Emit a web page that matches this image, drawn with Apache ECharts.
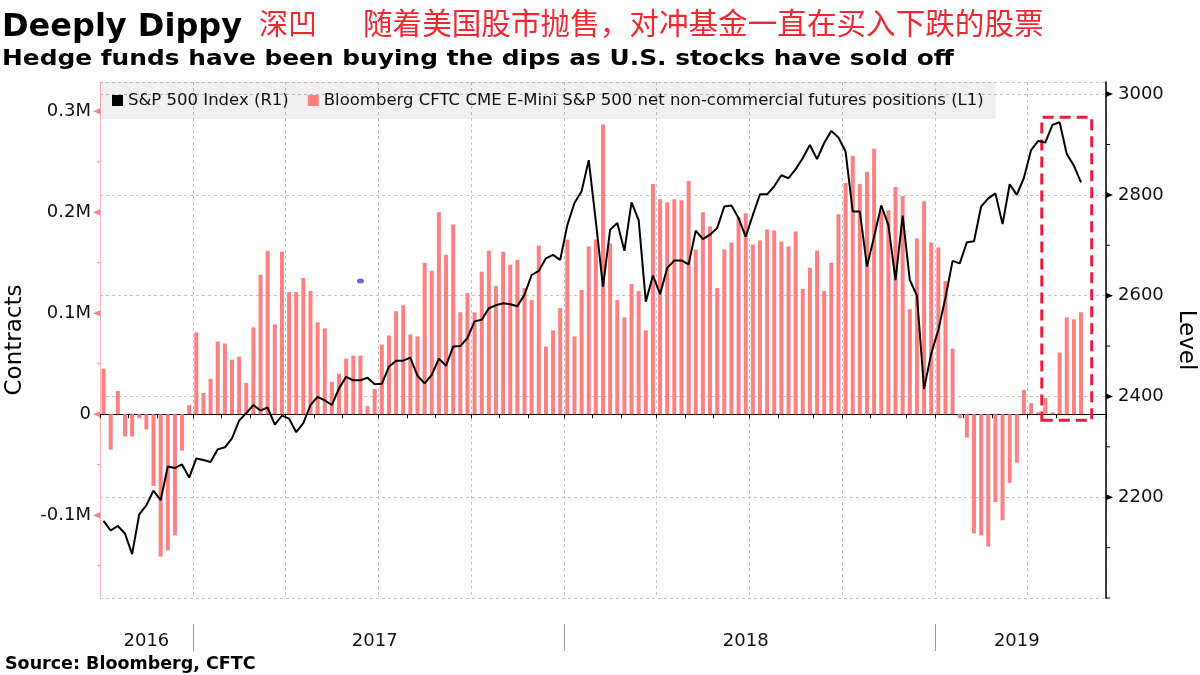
<!DOCTYPE html>
<html style="height: 100%">
<head>
<meta charset="utf-8">
<title>Deeply Dippy</title>
<script src="https://cdn.jsdelivr.net/npm/echarts@6/dist/echarts.min.js"></script>
</head>
<body style="height: 100%; margin: 0; background: #fff">
<div id="container" style="width: 1200px; height: 675px"></div>
<script type="text/javascript">
// weekly (Friday) observations, first one 2016-10-07, axis runs 3 weeks past the last point
var firstWeek = Date.UTC(2016, 9, 7);
var weekCount = 141;

// CFTC net non-commercial E-mini positions, thousands of contracts
var positions = [
    45, -35, 23, -22, -22, -4, -15, -71, -141, -135,
    -120, -36, 9, 81, 21, 35, 72, 70, 54, 57,
    31, 86, 138, 162, 89, 161, 121, 121, 135, 122,
    91, 85, 32, 40, 55, 58, 58, 8, 25, 69,
    78, 102, 108, 79, 77, 150, 142, 200, 158, 188,
    101, 120, 101, 141, 162, 127, 161, 148, 153, 125,
    113, 167, 67, 83, 105, 173, 77, 123, 166, 173,
    287, 169, 113, 96, 129, 122, 83, 228, 213, 210,
    213, 212, 231, 163, 200, 186, 125, 163, 170, 195,
    199, 168, 172, 183, 182, 171, 166, 181, 124, 145,
    162, 122, 150, 198, 229, 256, 228, 240, 263, 202,
    202, 225, 216, 104, 174, 211, 170, 165, 132, 65,
    -4, -23, -118, -120, -131, -87, -105, -68, -48, 24,
    11, 2, 16, 2, 61, 96, 94, 101
];

// S&P 500 index level
var spx = [
    2153, 2134, 2143, 2128, 2087, 2166, 2184, 2213, 2194, 2261,
    2258, 2265, 2239, 2277, 2274, 2270, 2295, 2299, 2317, 2352,
    2367, 2383, 2372, 2378, 2344, 2362, 2356, 2329, 2347, 2383,
    2399, 2392, 2383, 2416, 2439, 2432, 2432, 2437, 2424, 2425,
    2459, 2471, 2471, 2477, 2441, 2426, 2443, 2475, 2461, 2499,
    2500, 2516, 2549, 2552, 2575, 2581, 2585, 2583, 2579, 2602,
    2641, 2649, 2674, 2681, 2671, 2740, 2784, 2807, 2869, 2747,
    2618, 2731, 2744, 2689, 2785, 2750, 2588, 2640, 2603, 2655,
    2670, 2670, 2662, 2729, 2712, 2721, 2734, 2777, 2779, 2754,
    2717, 2760, 2801, 2801, 2817, 2839, 2833, 2851, 2873, 2899,
    2871, 2903, 2927, 2914, 2886, 2767, 2767, 2658, 2717, 2779,
    2740, 2631, 2759, 2631, 2600, 2415, 2485, 2532, 2596, 2669,
    2664, 2706, 2708, 2777, 2793, 2803, 2742, 2821, 2800, 2834,
    2889, 2907, 2904, 2939, 2944, 2881, 2858, 2825
];

var leftMajor = [-100, 0, 100, 200, 300];
var leftMinor = [-150, -50, 50, 150, 250];
var rightMajor = [2200, 2400, 2600, 2800, 3000];
var rightMinor = [2000, 2100, 2300, 2500, 2700, 2900];

var lineName = 'S&P 500 Index (R1)';
var barName = 'Bloomberg CFTC CME E-Mini S&P 500 net non-commercial futures positions (L1)';

var weeks = [];
for (var i = 0; i < weekCount; i++) {
    weeks.push(new Date(firstWeek + i * 7 * 86400000).toISOString().slice(0, 10));
}

function monthStart(i) {
    return i === 0 || weeks[i].slice(5, 7) !== weeks[i - 1].slice(5, 7);
}
function quarterStart(i) {
    return i > 0 && monthStart(i) && ['01', '04', '07', '10'].indexOf(weeks[i].slice(5, 7)) >= 0;
}
function yearStart(i) {
    return i > 0 && weeks[i].slice(0, 4) !== weeks[i - 1].slice(0, 4);
}
// middle week of each year segment carries the year label
var yearMid = {};
(function () {
    var first = 0;
    for (var i = 1; i <= weeks.length; i++) {
        if (i === weeks.length || yearStart(i)) {
            yearMid[Math.floor((first + i - 1) / 2)] = true;
            first = i;
        }
    }
})();

var font = 'DejaVu Sans';
var cjk = 'Noto Sans CJK SC';

var dom = document.getElementById('container');
var myChart = echarts.init(dom, null, {renderer: 'canvas'});

var option = {
    animation: false,
    backgroundColor: '#fff',
    textStyle: {fontFamily: font},
    title: [
        {text: 'Deeply Dippy', left: 2, top: 12, padding: 0,
            textStyle: {fontFamily: font, fontWeight: 'bold', fontSize: 32, color: '#000'}},
        {text: '深凹', left: 259, top: 9, padding: 0,
            textStyle: {fontFamily: cjk, fontWeight: 'normal', fontSize: 29, color: '#ee2a30'}},
        {text: '随着美国股市抛售，对冲基金一直在买入下跌的股票', left: 363, top: 8, padding: 0,
            textStyle: {fontFamily: cjk, fontWeight: 'normal', fontSize: 29.6, color: '#ee2a30'}},
        {text: 'Source: Bloomberg, CFTC', left: 5, top: 655, padding: 0,
            textStyle: {fontFamily: font, fontWeight: 'bold', fontSize: 17.5, color: '#000'}}
    ],
    legend: {
        left: 100,
        top: 82,
        padding: [10, 12, 10, 12],
        itemGap: 19,
        itemWidth: 11,
        itemHeight: 11,
        backgroundColor: 'rgba(0,0,0,0.06)',
        data: [{name: lineName, icon: 'rect'}, {name: barName, icon: 'rect'}],
        textStyle: {fontFamily: font, fontSize: 16.5, color: '#111'}
    },
    grid: {left: 100, right: 94, top: 82, bottom: 77, containLabel: false, outerBoundsMode: 'none'},
    xAxis: [
        {
            type: 'category',
            data: weeks,
            boundaryGap: true,
            axisLine: {lineStyle: {color: '#000', width: 1}},
            axisTick: {show: true, length: 4, interval: function (i) { return monthStart(i); },
                lineStyle: {color: '#000'}},
            axisLabel: {show: false},
            splitLine: {show: true, interval: function (i) { return quarterStart(i); },
                lineStyle: {color: '#c4c4c4', type: [3, 3], width: 1}}
        },
        {
            type: 'category',
            data: weeks,
            position: 'bottom',
            offset: 26,
            boundaryGap: true,
            axisLine: {show: false},
            axisTick: {show: false},
            axisLabel: {
                show: true,
                interval: function (i) { return !!yearMid[i]; },
                formatter: function (v) { return v.slice(0, 4); },
                margin: 8,
                fontFamily: font,
                fontSize: 18,
                color: '#111'
            },
            splitLine: {show: false}
        }
    ],
    yAxis: [
        {
            type: 'value',
            position: 'left',
            min: -182,
            max: 329,
            splitNumber: 5,
            name: 'Contracts',
            nameLocation: 'middle',
            nameGap: 73,
            nameRotate: 90,
            nameTextStyle: {fontFamily: font, fontSize: 23, color: '#000'},
            axisLine: {show: true, lineStyle: {color: '#ffb4b4', width: 1}},
            axisTick: {show: false},
            splitLine: {show: false},
            axisLabel: {
                showMinLabel: false,
                showMaxLabel: false,
                margin: 9,
                fontFamily: font,
                fontSize: 18,
                color: '#111',
                formatter: function (v) { return v === 0 ? '0' : (v / 1000) + 'M'; }
            }
        },
        {
            type: 'value',
            position: 'right',
            min: 2000,
            max: 3024,
            interval: 200,
            name: 'Level',
            nameLocation: 'middle',
            nameGap: 66,
            nameRotate: -90,
            nameTextStyle: {fontFamily: font, fontSize: 23, color: '#000'},
            axisLine: {show: true, lineStyle: {color: '#000', width: 1.5}},
            axisTick: {show: false},
            splitLine: {show: true, lineStyle: {color: '#c4c4c4', type: [3, 3], width: 1}},
            axisLabel: {
                showMinLabel: false,
                showMaxLabel: false,
                margin: 12,
                fontFamily: font,
                fontSize: 18,
                color: '#111',
                formatter: function (v) { return String(v); }
            }
        }
    ],
    series: [
        {
            name: barName,
            type: 'bar',
            xAxisIndex: 0,
            yAxisIndex: 0,
            data: positions,
            barWidth: 4,
            itemStyle: {color: '#ff8080'},
            markArea: {
                silent: true,
                itemStyle: {color: 'rgba(0,0,0,0)', borderColor: '#f2183c', borderWidth: 3, borderType: [11, 6]},
                data: [[{xAxis: weeks[131], yAxis: 294}, {xAxis: weeks[138], yAxis: -6}]]
            }
        },
        {
            name: lineName,
            type: 'line',
            xAxisIndex: 0,
            yAxisIndex: 1,
            data: spx,
            symbol: 'none',
            z: 5,
            lineStyle: {color: '#000', width: 2},
            itemStyle: {color: '#000'}
        },
        {
            name: 'marker',
            type: 'scatter',
            xAxisIndex: 0,
            yAxisIndex: 0,
            data: [[weeks[36], 132]],
            symbol: 'circle',
            symbolSize: [7, 5],
            itemStyle: {color: '#3a46c8'}
        }
    ]
};

myChart.setOption(option);

// subtitle is stretched a little to the width of the original heavy face
var extras = [{
    type: 'text', x: 2, y: 48, scaleX: 1.13,
    style: {text: 'Hedge funds have been buying the dips as U.S. stocks have sold off',
        font: 'bold 22px "DejaVu Sans"', fill: '#000'}
}];

// axis tick marks: triangles at major values, short dashes at minor values
var leftX = 100, rightX = 1106;
leftMajor.forEach(function (v) {
    var y = myChart.convertToPixel({yAxisIndex: 0}, v);
    extras.push({type: 'polygon', shape: {points: [[leftX, y - 3], [leftX, y + 3], [leftX - 7, y]]},
        style: {fill: '#ff8080'}, z: 10});
});
leftMinor.forEach(function (v) {
    var y = myChart.convertToPixel({yAxisIndex: 0}, v);
    extras.push({type: 'line', shape: {x1: leftX - 3, y1: y, x2: leftX, y2: y},
        style: {stroke: '#ff8080', lineWidth: 1}, z: 10});
});
rightMajor.forEach(function (v) {
    var y = myChart.convertToPixel({yAxisIndex: 1}, v);
    extras.push({type: 'polygon', shape: {points: [[rightX, y - 3], [rightX, y + 3], [rightX + 7, y]]},
        style: {fill: '#000'}, z: 10});
});
rightMinor.forEach(function (v) {
    var y = myChart.convertToPixel({yAxisIndex: 1}, v);
    extras.push({type: 'line', shape: {x1: rightX, y1: y, x2: rightX + 4, y2: y},
        style: {stroke: '#000', lineWidth: 1}, z: 10});
});

// thin separators between the year labels, on the week boundary where a new year starts
var band = myChart.convertToPixel({xAxisIndex: 0}, weeks[1]) - myChart.convertToPixel({xAxisIndex: 0}, weeks[0]);
weeks.forEach(function (w, i) {
    if (!yearStart(i)) return;
    var x = Math.round(myChart.convertToPixel({xAxisIndex: 0}, w) - band / 2) + 0.5;
    extras.push({type: 'line', shape: {x1: x, y1: 624, x2: x, y2: 651},
        style: {stroke: '#999', lineWidth: 1}, z: 10});
});

myChart.setOption({graphic: extras});
</script>
</body>
</html>
